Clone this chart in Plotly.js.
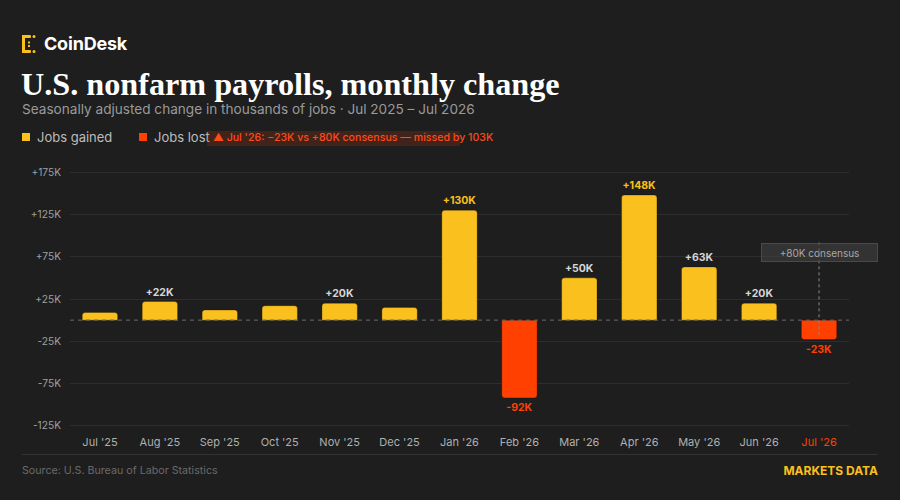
<!DOCTYPE html>
<html>
<head>
<meta charset="utf-8">
<script src="https://cdn.plot.ly/plotly-3.0.1.min.js"></script>
<style>
  html, body { margin:0; padding:0; background:#1e1e1e; }
  #wrap { position:relative; width:900px; height:500px; overflow:hidden; background:#1e1e1e; font-family:Inter, "Noto Sans", sans-serif; }
  #chart { position:absolute; left:0; top:0; width:900px; height:500px; }
  .t { position:absolute; white-space:nowrap; line-height:1; }
</style>
</head>
<body>
<div id="wrap">
  <div id="chart"></div>
  <svg class="t" style="left:22px;top:35px;" width="14" height="18" viewBox="0 0 14 18">
    <rect x="0" y="0" width="3" height="18" rx="1" fill="#F9C01E"/>
    <rect x="0" y="0" width="9" height="3" rx="1" fill="#F9C01E"/>
    <rect x="0" y="15" width="9" height="3" rx="1" fill="#F9C01E"/>
    <circle cx="12" cy="1.5" r="1.5" fill="#F9C01E"/>
    <circle cx="12" cy="16.5" r="1.5" fill="#F9C01E"/>
    <rect x="6" y="6.5" width="2" height="2" fill="#F9C01E"/>
    <rect x="6" y="10" width="2" height="2" fill="#F9C01E"/>
  </svg>
  <div class="t" style="left:44px;top:35px;font-size:18px;font-weight:700;color:#ffffff;letter-spacing:-0.2px;">CoinDesk</div>
  <div class="t" style="left:21px;top:68px;font-family:'Liberation Serif',serif;font-size:32.2px;font-weight:700;color:#ffffff;">U.S. nonfarm payrolls, monthly change</div>
  <div class="t" style="left:22px;top:103px;font-size:13.6px;color:#9a9a9a;">Seasonally adjusted change in thousands of jobs · Jul 2025 – Jul 2026</div>
  <div class="t" style="left:22px;top:133px;width:8px;height:8px;background:#F9C01E;"></div>
  <div class="t" style="left:37px;top:131px;font-size:13px;color:#bdbdbd;">Jobs gained</div>
  <div class="t" style="left:139px;top:133px;width:8px;height:8px;background:#FF4000;"></div>
  <div class="t" style="left:154px;top:131px;font-size:13px;color:#bdbdbd;">Jobs lost</div>
  <div class="t" style="left:207px;top:131px;width:253px;height:15px;background:rgba(255,64,0,0.16);"></div>
  <div class="t" style="left:213px;top:132.5px;font-size:10.6px;font-weight:500;color:#FF4A1A;">▲ Jul '26: −23K vs +80K consensus — missed by 103K</div>
  <div class="t" style="left:22px;top:454px;width:856px;height:1px;background:#333333;"></div>
  <div class="t" style="left:22px;top:466px;font-size:10.7px;color:#6a6a6a;">Source: U.S. Bureau of Labor Statistics</div>
  <div class="t" style="right:22px;top:465px;font-size:12px;font-weight:700;color:#F9C01E;">MARKETS DATA</div>
</div>
<script>
// ---- data ----
const months = ["Jul '25","Aug '25","Sep '25","Oct '25","Nov '25","Dec '25","Jan '26","Feb '26","Mar '26","Apr '26","May '26","Jun '26","Jul '26"];
const jobsChange = [9, 22, 12, 17, 20, 15, 130, -92, 50, 148, 63, 20, -23]; // thousands
const labelShown = [false, true, false, false, true, false, true, true, true, true, true, true, true];
const consensus = 80; // thousands, Jul '26
const yTickValues = [-125, -75, -25, 25, 75, 125, 175];

// ---- styling ----
const YELLOW = '#F9C01E', RED = '#FF4000';
const fmt = v => (v > 0 ? '+' : '') + v + 'K';
const yTickText = yTickValues.map(fmt);
const lastIdx = months.length - 1;
const xTickText = months.map((m, i) => i === lastIdx ? '<span style="color:' + RED + '">' + m + '</span>' : m);

const barColors = jobsChange.map(v => v < 0 ? RED : YELLOW);
const barText = jobsChange.map((v, i) => labelShown[i] ? fmt(v) : '');
const textColors = jobsChange.map(v => v < 0 ? RED : (v >= 100 ? YELLOW : '#d6d6d6'));

const trace = {
  type: 'bar',
  x: months,
  y: jobsChange,
  marker: { color: barColors, line: { color: 'rgba(0,0,0,0.25)', width: 1 } },
  text: barText,
  textposition: 'outside',
  textfont: { family: 'Inter', size: 10.5, color: textColors, weight: 700 },
  cliponaxis: false,
  hoverinfo: 'skip'
};

const layout = {
  width: 900, height: 500,
  margin: { l: 70, r: 51, t: 168, b: 70 },
  paper_bgcolor: 'rgba(0,0,0,0)',
  plot_bgcolor: 'rgba(0,0,0,0)',
  showlegend: false,
  bargap: 0.41,
  barcornerradius: 3,
  font: { family: 'Inter', color: '#aaaaaa', size: 11 },
  xaxis: {
    type: 'category',
    range: [-0.5, months.length - 0.5],
    autorange: false,
    tickvals: months, ticktext: xTickText,
    showgrid: false, zeroline: false, showline: false, ticks: '',
    tickfont: { size: 11, color: '#b0b0b0' },
    ticklabelstandoff: 4
  },
  yaxis: {
    range: [-130, 180],
    autorange: false,
    tickvals: yTickValues, ticktext: yTickText,
    showgrid: true, gridcolor: '#2d2d2d', gridwidth: 1,
    zeroline: false, showline: false, ticks: '',
    tickfont: { size: 10.2, color: '#a0a0a0' },
    ticklabelstandoff: 8
  },
  shapes: [
    { type: 'line', xref: 'paper', yref: 'y', x0: 0, x1: 1, y0: 0, y1: 0,
      line: { color: '#6a6a6a', width: 1, dash: '4px,4px' }, layer: 'above' },
    { type: 'line', xref: 'x', yref: 'y', x0: months[lastIdx], x1: months[lastIdx], y0: -18, y1: consensus + 13,
      line: { color: '#8a8a8a', width: 1, dash: '3px,3px' }, layer: 'above' }
  ],
  annotations: [
    { xref: 'x', yref: 'y', x: months[lastIdx], y: consensus, text: fmt(consensus) + ' consensus',
      showarrow: false, font: { size: 10, color: '#a8a8a8' },
      bgcolor: 'rgba(70,70,70,0.55)', bordercolor: '#4a4a4a', borderwidth: 1,
      width: 111, height: 13, borderpad: 2 }
  ]
};

Plotly.newPlot('chart', [trace], layout, { staticPlot: true, displayModeBar: false });
</script>
</body>
</html>
